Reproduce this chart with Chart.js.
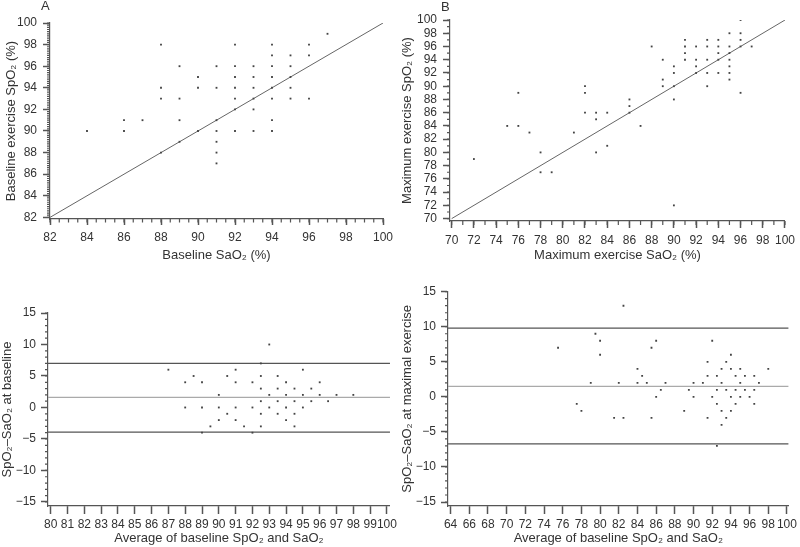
<!DOCTYPE html>
<html>
<head>
<meta charset="utf-8">
<script src="https://cdn.jsdelivr.net/npm/chart.js@4.4.1/dist/chart.umd.min.js"></script>
<style>
  html, body { margin: 0; padding: 0; background: #fff; }
  #wrap { position: relative; width: 800px; height: 547px; overflow: hidden; }
  canvas { position: absolute; }
</style>
</head>
<body>
<div id="wrap">
  <canvas id="panel-a" width="400" height="273" style="left:0;top:0"></canvas>
  <canvas id="panel-b" width="400" height="273" style="left:400px;top:0"></canvas>
  <canvas id="panel-c" width="400" height="274" style="left:0;top:273px"></canvas>
  <canvas id="panel-d" width="400" height="274" style="left:400px;top:273px"></canvas>
</div>
<script>
// A: baseline SaO2 vs baseline exercise SpO2
const baseSaO2 = [84,86,86,87,88,88,88,88,89,89,89,89,90,90,90,91,91,91,91,91,91,91,92,92,92,92,92,92,92,93,93,93,93,93,93,94,94,94,94,94,94,94,94,95,95,95,95,95,96,96,96,97];
const baseSpO2 = [90,91,90,91,98,94,93,88,96,93,91,89,95,94,90,96,94,91,90,89,88,87,98,96,95,94,93,92,90,96,95,94,93,92,90,98,97,96,95,94,93,91,90,97,96,95,94,93,98,97,93,99];
const identityA = [82, 100];

// B: maximum exercise SaO2 vs SpO2
const maxSaO2 = [72,75,76,76,77,78,78,79,81,82,82,82,83,83,83,84,84,86,86,86,87,88,89,89,89,90,90,90,90,90,91,91,91,91,92,92,92,92,93,93,93,93,93,94,94,94,94,94,95,95,95,95,95,95,95,96,96,96,96,96,97];
const maxSpO2 = [79,84,89,84,83,80,77,77,83,90,89,86,86,85,80,86,81,88,87,86,84,96,94,91,90,93,92,90,88,72,97,96,95,94,96,94,93,92,97,96,94,92,90,97,96,95,94,92,98,96,95,94,93,92,91,100,98,97,96,89,96];
const identityB = [70, 100];

// C: Bland-Altman at baseline
const baseAvg = [87,88,88,88.5,89,89,89,89.5,90,90,90,90.5,90.5,91,91,91,91,91.5,92,92,92,92.5,92.5,92.5,92.5,92.5,92.5,93,93,93,93.5,93.5,93.5,93.5,94,94,94,94,94.5,94.5,94.5,94.5,95,95,95,95.5,95.5,96,96,96.5,97,98];
const baseDiff = [6,4,0,5,4,0,-4,-3,2,0,-2,5,-1,6,4,0,-2,-3,4,0,-4,7,5,3,1,-1,-3,10,2,0,5,3,1,-1,4,2,0,-2,3,1,-1,-3,6,2,0,3,1,4,2,1,2,2];
const baseLimits = [7.0, 1.6, -3.9]; // upper, bias, lower

// D: Bland-Altman at maximal exercise
const maxAvg = [75.5,77.5,78,79,79.5,80,80,81.5,82,82.5,82.5,84,84,84.5,85,85.5,85.5,86,86,86.5,87,89,89.5,90,90,91,91.5,91.5,91.5,92,92,92.5,92.5,92.5,92.5,93,93,93,93,93.5,93.5,93.5,94,94,94,94,94.5,94.5,94.5,95,95,95,95.5,95.5,96,96.5,96.5,96.5,97,98];
const maxDiff = [7,-1,-2,2,9,8,6,-3,2,13,-3,4,2,3,2,7,-3,8,0,1,2,-2,1,2,0,2,5,3,-3,8,0,3,1,-1,-7,4,2,-2,-4,5,1,-3,6,4,0,-2,3,1,-1,4,2,0,3,1,0,3,1,-1,2,4];
const maxLimits = [9.8, 1.5, -6.7];

// tick labels
const ticksAx = [82,84,86,88,90,92,94,96,98,100];
const ticksAy = [82,84,86,88,90,92,94,96,98,100];
const ticksBx = [70,72,74,76,78,80,82,84,86,88,90,92,94,96,98,100];
const ticksBy = [70,72,74,76,78,80,82,84,86,88,90,92,94,96,98,100];
const ticksCx = [80,81,82,83,84,85,86,87,88,89,90,91,92,93,94,95,96,97,98,99,100];
const ticksDx = [64,66,68,70,72,74,76,78,80,82,84,86,88,90,92,94,96,98,100];
const ticksDiff = [-15,-10,-5,0,5,10,15];

const TEXT = "#333";
const AXIS = "#555";
const DOT = "#444";
const FONT = '"Liberation Sans", Arial, sans-serif';

// short unlabelled ticks between the labelled ones, plus the panel letter
function minorTickPlugin(minor, label) {
  return {
    id: "minorTicks",
    afterDraw(chart) {
      const ctx = chart.ctx;
      ctx.save();
      ctx.strokeStyle = AXIS;
      ctx.lineWidth = 1.2;
      ctx.beginPath();
      ["x", "y"].forEach(id => {
        const m = minor[id];
        if (!m) return;
        const s = chart.scales[id];
        const n = Math.round((m.to - m.from) / m.step);
        for (let i = 0; i <= n; i++) {
          const p = s.getPixelForValue(m.from + i * m.step);
          if (id === "x") { ctx.moveTo(p, s.top); ctx.lineTo(p, s.top + m.len); }
          else { ctx.moveTo(s.right, p); ctx.lineTo(s.right - m.len, p); }
        }
      });
      ctx.stroke();
      if (label) {
        ctx.fillStyle = TEXT;
        ctx.font = "13px " + FONT;
        ctx.textBaseline = "top";
        ctx.fillText(label.text, label.x, label.y);
      }
      ctx.restore();
    }
  };
}

const fmt = v => v < 0 ? "\u2212" + (-v) : String(v);

function axis(a, horizontal) {
  return {
    type: "linear",
    min: a.min,
    max: a.max,
    afterBuildTicks: s => { s.ticks = a.ticks.map(v => ({ value: v })); },
    afterFit: s => {
      if (horizontal) s.height = a.size; else s.width = a.size;
    },
    grid: { drawOnChartArea: false, drawTicks: true, tickLength: a.len, color: AXIS, tickColor: AXIS, tickWidth: 1.5 },
    border: { color: AXIS, width: 1.2 },
    ticks: {
      autoSkip: false, maxRotation: 0, minRotation: 0, padding: a.pad,
      color: TEXT, font: { family: FONT, size: 12 },
      callback: v => fmt(v)
    },
    title: {
      display: true, text: a.title, color: TEXT,
      font: { family: FONT, size: 13 },
      padding: horizontal ? { top: 0, bottom: a.titlePad } : { top: a.titlePad, bottom: 0 }
    }
  };
}

function makePanel(id, p) {
  const datasets = [{
    data: p.xs.map((x, i) => ({ x, y: p.ys[i] })),
    pointStyle: "rect",
    pointRadius: 1.3,
    backgroundColor: DOT,
    borderWidth: 0
  }];
  p.lines.forEach(l => datasets.push({
    data: l.pts,
    showLine: true,
    borderColor: l.color,
    borderWidth: l.width || 1,
    pointRadius: 0,
    fill: false
  }));
  return new Chart(document.getElementById(id), {
    type: "scatter",
    data: { datasets },
    options: {
      responsive: false,
      animation: false,
      layout: { padding: p.padding },
      plugins: { legend: { display: false }, tooltip: { enabled: false } },
      scales: { x: axis(p.x, true), y: axis(p.y, false) }
    },
    plugins: [minorTickPlugin(p.minor, p.label)]
  });
}

makePanel("panel-a", {
  xs: baseSaO2, ys: baseSpO2,
  lines: [{ pts: identityA.map(v => ({ x: v, y: v })), color: "#666" }],
  padding: { left: 0, top: 23, right: 17, bottom: 0 },
  x: { min: 82, max: 100, ticks: ticksAx, size: 54, len: 6, pad: 5, title: "Baseline SaO\u2082 (%)", titlePad: 10 },
  y: { min: 81.85, max: 100, ticks: ticksAy, size: 50, len: 7, pad: 6, title: "Baseline exercise SpO\u2082 (%)", titlePad: 4 },
  minor: { x: { from: 82, to: 100, step: 0.5, len: 3.5 }, y: { from: 82, to: 100, step: 0.2, len: 3 } },
  label: { text: "A", x: 41, y: 0 }
});

makePanel("panel-b", {
  xs: maxSaO2, ys: maxSpO2,
  lines: [{ pts: identityB.map(v => ({ x: v, y: v })), color: "#666" }],
  padding: { left: 0, top: 20, right: 13, bottom: 0 },
  x: { min: 69.85, max: 100, ticks: ticksBx, size: 52, len: 7, pad: 5, title: "Maximum exercise SaO\u2082 (%)", titlePad: 10 },
  y: { min: 69.64, max: 100, ticks: ticksBy, size: 50, len: 7, pad: 6, title: "Maximum exercise SpO\u2082 (%)", titlePad: 0 },
  minor: { x: { from: 70, to: 100, step: 1, len: 4 }, y: { from: 70, to: 100, step: 1, len: 3 } },
  label: { text: "B", x: 41, y: 1 }
});

const limitColors = ["#555", "#aaa", "#555"];

makePanel("panel-c", {
  xs: baseAvg, ys: baseDiff,
  lines: baseLimits.map((v, i) => ({ pts: [{ x: 79.84, y: v }, { x: 100.18, y: v }], color: limitColors[i], width: 1.3 })),
  padding: { left: 0, top: 40, right: 4.7, bottom: 0 },
  x: { min: 79.84, max: 100.18, ticks: ticksCx, size: 41, len: 8, pad: 3, title: "Average of baseline SpO\u2082 and SaO\u2082", titlePad: 1 },
  y: { min: -15.64, max: 15, ticks: ticksDiff, size: 48, len: 7, pad: 5, title: "SpO\u2082\u2013SaO\u2082 at baseline", titlePad: 0 },
  minor: { y: { from: -15, to: 15, step: 1, len: 3 } }
});

makePanel("panel-d", {
  xs: maxAvg, ys: maxDiff,
  lines: maxLimits.map((v, i) => ({ pts: [{ x: 63.72, y: v }, { x: 100.18, y: v }], color: limitColors[i], width: 1.3 })),
  padding: { left: 0, top: 18.7, right: 6, bottom: 0 },
  x: { min: 63.72, max: 100.18, ticks: ticksDx, size: 41, len: 8, pad: 3, title: "Average of baseline SpO\u2082 and SaO\u2082", titlePad: 1 },
  y: { min: -15.57, max: 15, ticks: ticksDiff, size: 48, len: 7, pad: 5, title: "SpO\u2082\u2013SaO\u2082 at maximal exercise", titlePad: 0 },
  minor: { y: { from: -15, to: 15, step: 1, len: 3 } }
});
</script>
</body>
</html>
